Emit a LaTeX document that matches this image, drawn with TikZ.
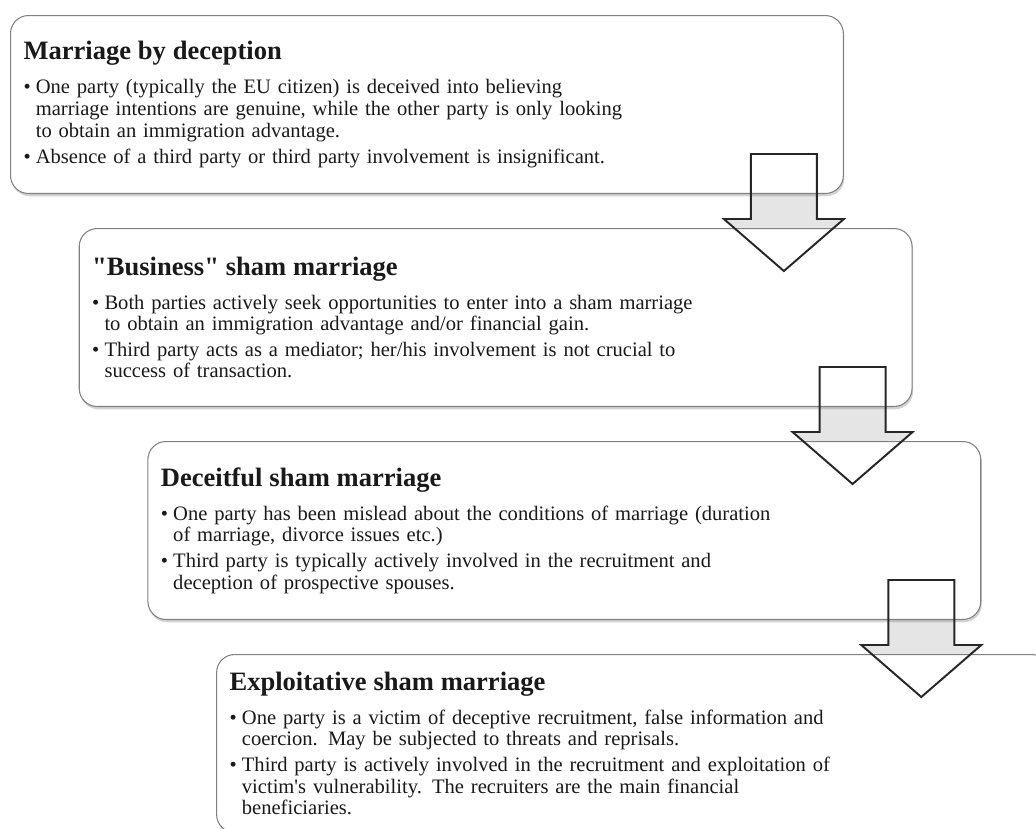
\documentclass[tikz,border=0pt]{standalone}
\usepackage{fontspec}
\setmainfont{Liberation Serif}[Ligatures=TeXOff]
\usetikzlibrary{calc}
\usetikzlibrary{shadows}
\usetikzlibrary{backgrounds}

\newcommand{\stagetitle}[1]{\lineskiplimit=-8pt\relax\parskip=3pt\relax%
  \noindent{\fontsize{15.1}{17}\selectfont\bfseries #1\par}\vspace{4pt}}
\newcommand{\stageitem}[1]{\par\noindent\makebox[7pt][l]{\textbullet}\parbox[t]{\dimexpr16.14cm-7pt\relax}{#1}}

\tikzset{
  stagebox/.style={draw=black!50, line width=0.6pt, fill=white, rounded corners=0.36cm,
    minimum width=16.66cm, minimum height=3.56cm, text width=16.14cm, inner xsep=0.26cm,
    align=left, anchor=north west, text=black!90,
    font=\fontsize{11.7}{12.3}\selectfont,
    drop shadow={shadow xshift=0.6pt, shadow yshift=-1.6pt, opacity=0.35}},
  blockarrow/.style={draw=black!85, line width=1.1pt, line join=miter},
}

\begin{document}
\begin{tikzpicture}[x=0.02cm, y=-0.02cm]
				\useasboundingbox (0,0) rectangle (1036,829);
				\clip (0,0) rectangle (1036,829);
				
				% The four kinds of sham marriage
				\node[stagebox] (deception) at (10,15) {\stagetitle{Marriage by deception}
					\stageitem{One party (typically the EU citizen) is deceived into believing\\ marriage intentions are genuine, while the other party is only looking\\ to obtain an immigration advantage.}
					\stageitem{Absence of a third party or third party involvement is insignificant.}};
				\node[stagebox] (business) at (78.7,228) {\stagetitle{"Business" sham marriage}
					\stageitem{Both parties actively seek opportunities to enter into a sham marriage\\ to obtain an immigration advantage and/or financial gain.}
					\stageitem{Third party acts as a mediator; her/his involvement is not crucial to\\ success of transaction.}};
				\node[stagebox] (deceitful) at (147.4,441) {\stagetitle{Deceitful sham marriage}
					\stageitem{One party has been mislead about the conditions of marriage (duration\\ of marriage, divorce issues etc.)}
					\stageitem{Third party is typically actively involved in the recruitment and\\ deception of prospective spouses.}};
				\node[stagebox] (exploitative) at (216.1,654) {\stagetitle{Exploitative sham marriage}
					\stageitem{One party is a victim of deceptive recruitment, false information and\\ coercion. May be subjected to threats and reprisals.}
					\stageitem{Third party is actively involved in the recruitment and exploitation of\\ victim's vulnerability. The recruiters are the main financial\\ beneficiaries.}};
				
				% Grey fill of the block arrows, seen between the boxes
				\begin{pgfonlayer}{background}
					\foreach \from in {deception, business, deceitful}
						\fill[black!10] ($(\from.south east)+(-93,-40)$) -- ++(66,0) -- ++(0,65) -- ++(27,0) -- ++(-60,52) -- ++(-60,-52) -- ++(27,0) -- cycle;
				\end{pgfonlayer}
				
				% Outlines of the block arrows
				\foreach \from in {deception, business, deceitful}
					\draw[blockarrow] ($(\from.south east)+(-93,-40)$) -- ++(66,0) -- ++(0,65) -- ++(27,0) -- ++(-60,52) -- ++(-60,-52) -- ++(27,0) -- cycle;
			\end{tikzpicture}
\end{document}
